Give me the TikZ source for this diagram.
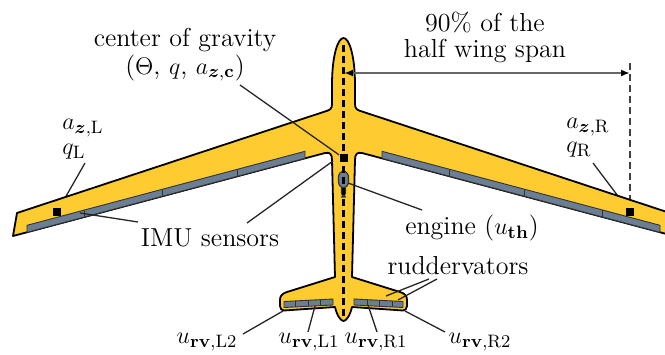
\documentclass[tikz,border=0pt]{standalone}
\usepackage{amsmath,bm}
\usetikzlibrary{arrows.meta}

\definecolor{planeyellow}{RGB}{254,203,48}
\definecolor{surfgray}{RGB}{108,126,146}

\tikzset{
  outline/.style={draw=black, line width=0.9pt, fill=planeyellow, line join=round},
  surface/.style={draw=black!80, line width=0.45pt, fill=surfgray, line join=round},
  leader/.style={draw=black!85, line width=0.65pt},
  sensor/.style={fill=black, minimum size=4pt, inner sep=0pt},
  lbl/.style={font=\fontsize{13}{15}\selectfont, inner sep=0pt},
  axisline/.style={dash pattern=on 3.5pt off 2pt, line width=1.4pt},
  spanline/.style={dash pattern=on 3.5pt off 2pt, line width=0.9pt, draw=black!75},
  dimarrow/.style={draw=black!60, line width=1.1pt,
    {Latex[length=4.5pt,width=3.5pt,color=black]}-{Latex[length=4.5pt,width=3.5pt,color=black]}}
}

% one half of the control surfaces (left side); mirrored for the right side
\newcommand{\halfsurfaces}{%
  % aileron / flap strip along the wing trailing edge
  \draw[surface] (27,232.3) -- (305,158.3) -- (305,151.3) -- (27,225.3) -- cycle;
  \draw[draw=black!80, line width=0.45pt] (84.5,217) -- (84.5,210)
        (162.5,196.2) -- (162.5,189.2) (237.5,176.3) -- (237.5,169.3);
  % ruddervator strip along the tail trailing edge
  \draw[surface] (284,307.5) -- (333,305) -- (333,299) -- (284,301.5) -- cycle;
  \draw[draw=black!80, line width=0.45pt] (295,307) -- (295,301)
        (308,306.3) -- (308,300.3) (320,305.7) -- (320,299.7);
}

\begin{document}
\begin{tikzpicture}[x=0.5pt,y=-0.5pt]
  \clip (0,0) rectangle (665,354);

  % reference points on the airframe
  \coordinate (imuLpos) at (57,212);
  \coordinate (imuRpos) at (630,212);
  \coordinate (cgpos) at (343.5,158);
  \coordinate (engpos) at (348,183);
  \coordinate (nosept) at (343.5,45);
  \coordinate (tailpt) at (343.5,318);
  \coordinate (spantop) at (630,63);
  \coordinate (dimL) at (344,73);
  \coordinate (dimR) at (630,73);

  % labels
  \node[lbl] (cogA) at (185,40) {center of gravity};
  \node[lbl] (cogB) at (185,68) {($\Theta$, $q$, $a_{\bm{z},\mathbf{c}}$)};
  \node[lbl] (spanA) at (485,22) {90\% of the};
  \node[lbl] (spanB) at (485,51) {half wing span};
  \node[lbl,anchor=west] (azL) at (62,128) {$a_{\bm{z},\mathrm{L}}$};
  \node[lbl,anchor=west] (qL) at (62,152) {$q_{\mathrm{L}}$};
  \node[lbl,anchor=west] (azR) at (566,127) {$a_{\bm{z},\mathrm{R}}$};
  \node[lbl,anchor=west] (qR) at (566,150) {$q_{\mathrm{R}}$};
  \node[lbl] (imu) at (210,238) {IMU sensors};
  \node[lbl] (eng) at (472,228) {engine ($u_{\mathbf{th}}$)};
  \node[lbl] (rud) at (458,266) {ruddervators};
  \node[lbl] (rvLtwo) at (207,342) {$u_{\mathbf{rv},\mathrm{L2}}$};
  \node[lbl] (rvLone) at (309,342) {$u_{\mathbf{rv},\mathrm{L1}}$};
  \node[lbl] (rvRone) at (376,342) {$u_{\mathbf{rv},\mathrm{R1}}$};
  \node[lbl] (rvRtwo) at (480,342) {$u_{\mathbf{rv},\mathrm{R2}}$};

  % leader start points next to the labels
  \coordinate (qLlead) at (85,163);
  \coordinate (qRlead) at (593,163);
  \coordinate (cglead) at (240,85);
  \coordinate (imuleadA) at (138,222);
  \coordinate (imuleadB) at (247,223);
  \coordinate (englead) at (422,210);
  \coordinate (rudleadA) at (429,279);
  \coordinate (rudleadB) at (437,279);
  \coordinate (rvLtwolead) at (243,334);
  \coordinate (rvLonelead) at (308,332);
  \coordinate (rvRonelead) at (377,332);
  \coordinate (rvRtwolead) at (445,332);

  % lines that pass under the wing
  \draw[leader] (qLlead) -- (imuLpos);
  \draw[leader] (qRlead) -- (imuRpos);
  \draw[spanline] (spantop) -- (imuRpos);

  % airframe outline: fuselage, wings and V-tail
  \path[outline]
    (343.5,38)
    .. controls (349,38) and (355,55) .. (355,85)
    -- (355,104)
    .. controls (355,109) and (357,110) .. (362,111.5)
    -- (670,213) -- (674,236) -- (362,153)
    .. controls (357,152) and (355,154) .. (355,160)
    -- (352,277)
    -- (400,292)
    .. controls (405,293.5) and (407,296) .. (407,300)
    -- (407,306)
    .. controls (407,309) and (405,310.5) .. (403,310.5)
    -- (352,307)
    .. controls (350,316) and (346,321) .. (343.5,321)
    .. controls (341,321) and (337,316) .. (335,307)
    -- (284,310.5)
    .. controls (282,310.5) and (280,309) .. (280,306)
    -- (280,300)
    .. controls (280,296) and (282,293.5) .. (287,292)
    -- (335,277)
    -- (332,160)
    .. controls (332,154) and (330,152) .. (325,153)
    -- (13,236) -- (17,213) -- (325,111.5)
    .. controls (330,110) and (332,109) .. (332,104)
    -- (332,85)
    .. controls (332,55) and (338,38) .. (343.5,38)
    -- cycle;

  % control surfaces
  \halfsurfaces
  \begin{scope}[shift={(687,0)}, xscale=-1]
    \halfsurfaces
  \end{scope}

  % engine
  \draw[surface, line width=0.6pt, rounded corners=2pt]
    (341.5,185) rectangle (345.5,197);
  \draw[surface, line width=0.6pt, rounded corners=3pt]
    (338.5,171) rectangle (348.5,188);

  % longitudinal axis
  \draw[axisline] (nosept) -- (tailpt);

  % sensors
  \node[sensor] (imuL) at (imuLpos) {};
  \node[sensor] (imuR) at (imuRpos) {};
  \node[sensor] (cg) at (cgpos) {};

  % leaders drawn over the airframe
  \draw[leader] (cglead) -- (cg);
  \draw[leader] (imuleadA) -- (80,213) coordinate (imuhitA);
  \draw[leader] (imuleadB) -- (333,161) coordinate (imuhitB);
  \draw[leader] (englead) -- (engpos);
  \draw[leader] (rudleadA) -- (386,296) coordinate (rudhitA);
  \draw[leader] (rudleadB) -- (398,300) coordinate (rudhitB);
  \draw[leader] (rvLtwolead) -- (283,311) coordinate (rvLtwohit);
  \draw[leader] (rvLonelead) -- (315,306) coordinate (rvLonehit);
  \draw[leader] (rvRonelead) -- (368,305) coordinate (rvRonehit);
  \draw[leader] (rvRtwolead) -- (405,311) coordinate (rvRtwohit);

  % span dimension
  \draw[dimarrow] (dimL) -- (dimR);
\end{tikzpicture}
\end{document}
